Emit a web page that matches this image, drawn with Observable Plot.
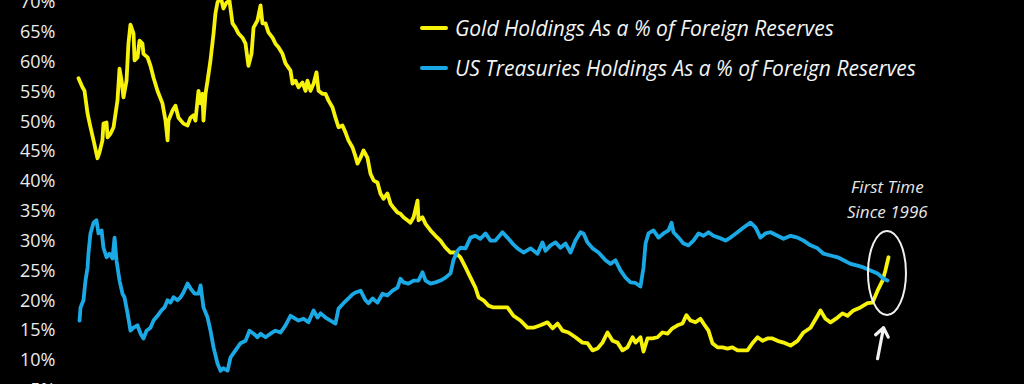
<!DOCTYPE html>
<html><head><meta charset="utf-8">
<script src="https://cdn.jsdelivr.net/npm/d3@7"></script>
<script src="https://cdn.jsdelivr.net/npm/@observablehq/plot@0.6"></script>
<style>
html,body{margin:0;padding:0;background:#000;overflow:hidden;}
#wrap{position:relative;width:1024px;height:384px;overflow:hidden;background:#000;}
.legend{position:absolute;left:420px;top:8px;font-family:"Open Sans";font-style:italic;font-size:21px;color:#f4f4f4;}
.legend div{height:40px;display:flex;align-items:center;white-space:nowrap;}
.sw{display:inline-block;width:28px;height:4px;border-radius:2px;margin-right:7px;}
</style></head><body><div id="wrap"></div>
<script>
// Gold holdings as % of foreign reserves
const goldYears = [1970.00,1970.27,1970.41,1970.62,1970.82,1971.03,1971.30,1971.44,1971.64,1971.71,1971.92,1971.99,1972.19,1972.40,1972.67,1972.81,1972.95,1973.08,1973.29,1973.42,1973.56,1973.77,1973.84,1974.04,1974.18,1974.38,1974.45,1974.73,1974.93,1975.14,1975.41,1975.75,1975.96,1976.10,1976.16,1976.44,1976.64,1976.85,1977.19,1977.47,1977.67,1977.88,1978.01,1978.22,1978.36,1978.49,1978.56,1978.70,1978.84,1979.04,1979.25,1979.38,1979.52,1979.73,1979.93,1980.14,1980.34,1980.55,1980.75,1980.96,1981.23,1981.44,1981.64,1981.85,1981.99,1982.26,1982.47,1982.60,1982.81,1983.01,1983.29,1983.49,1983.70,1983.97,1984.18,1984.52,1984.66,1984.86,1985.07,1985.34,1985.55,1985.68,1985.89,1986.10,1986.30,1986.44,1986.71,1986.92,1987.12,1987.40,1987.60,1987.81,1988.08,1988.29,1988.49,1988.77,1988.97,1989.11,1989.32,1989.52,1989.79,1990.00,1990.21,1990.48,1990.68,1990.89,1991.16,1991.37,1991.58,1991.85,1992.05,1992.26,1992.53,1992.74,1992.95,1993.22,1993.29,1993.56,1993.77,1994.11,1994.45,1994.79,1995.14,1995.48,1995.82,1996.16,1996.51,1996.85,1997.19,1997.40,1997.74,1998.08,1998.42,1998.90,1999.38,1999.79,2000.27,2000.75,2001.16,2001.64,2002.12,2002.47,2002.81,2003.15,2003.56,2004.04,2004.52,2004.86,2005.21,2005.55,2005.89,2006.23,2006.58,2006.92,2007.26,2007.60,2007.95,2008.15,2008.49,2008.70,2008.97,2009.32,2009.66,2010.00,2010.34,2010.68,2011.03,2011.37,2011.64,2011.92,2012.26,2012.60,2012.81,2013.15,2013.42,2013.77,2014.11,2014.45,2014.79,2015.14,2015.48,2015.82,2016.16,2016.51,2016.85,2017.19,2017.53,2017.88,2018.29,2018.77,2019.25,2019.66,2020.14,2020.62,2020.82,2021.16,2021.51,2021.99,2022.33,2022.67,2023.08,2023.56,2024.04,2024.38,2024.73,2025.07,2025.27,2025.48];
const goldValues = [57.3,55.8,55.2,51.4,49.1,46.9,43.9,44.9,46.9,49.7,49.9,47.4,48.0,49.1,53.6,58.9,56.9,54.1,56.9,63.1,66.3,64.8,60.3,60.8,63.6,63.1,61.4,60.8,59.4,57.4,55.2,53.1,50.2,46.9,50.2,51.9,52.7,50.7,49.7,49.4,50.7,51.1,50.2,55.2,53.1,54.7,50.2,54.7,56.9,60.3,64.8,68.2,70.0,71.0,69.0,70.0,70.3,66.5,65.8,64.8,64.1,63.1,59.4,61.4,65.8,67.0,69.5,66.5,66.5,65.0,64.1,63.1,62.5,61.4,59.8,58.6,56.4,56.9,55.8,56.6,55.2,56.9,55.2,56.4,58.3,55.2,54.7,54.7,53.6,52.4,50.7,49.1,49.4,48.2,46.9,45.7,44.2,43.0,44.0,45.2,44.0,41.3,40.2,39.8,38.0,37.1,38.0,36.3,35.6,34.8,34.6,34.0,33.5,33.1,34.0,36.8,33.5,34.0,32.9,31.8,30.9,30.1,28.9,28.1,28.1,27.3,25.6,23.9,22.2,20.6,20.1,19.2,18.9,18.9,18.9,17.5,16.7,15.5,15.5,15.9,16.4,15.4,16.2,15.0,14.7,13.9,13.0,12.9,11.7,12.0,13.0,14.7,13.3,13.0,11.7,12.2,13.9,13.0,13.9,11.5,13.7,13.7,13.9,14.7,14.5,15.4,15.9,16.2,17.6,16.7,16.4,17.0,16.2,15.0,12.9,12.2,12.2,12.0,12.2,11.7,11.7,11.7,12.9,13.9,13.3,13.7,13.7,13.3,13.0,12.5,13.3,14.7,15.5,17.5,18.4,17.0,16.4,17.2,17.9,17.5,18.4,18.9,19.6,19.7,21.7,23.4,25.1,27.3];

// US Treasuries holdings as % of foreign reserves
const ustYears = [1970.07,1970.14,1970.34,1970.48,1970.62,1970.68,1970.82,1971.03,1971.23,1971.37,1971.58,1971.71,1971.92,1972.12,1972.33,1972.47,1972.60,1972.81,1973.01,1973.15,1973.36,1973.56,1973.77,1974.04,1974.25,1974.45,1974.66,1974.93,1975.14,1975.41,1975.68,1975.89,1976.10,1976.30,1976.51,1976.78,1976.99,1977.19,1977.47,1977.67,1977.95,1978.22,1978.36,1978.56,1978.84,1979.04,1979.25,1979.52,1979.73,1979.93,1980.21,1980.41,1980.75,1981.10,1981.44,1981.71,1981.99,1982.26,1982.47,1982.81,1983.15,1983.49,1983.84,1984.18,1984.52,1984.73,1985.07,1985.41,1985.75,1986.10,1986.37,1986.58,1986.92,1987.26,1987.60,1987.81,1988.15,1988.49,1988.77,1988.97,1989.32,1989.66,1989.86,1990.14,1990.48,1990.82,1991.16,1991.51,1991.85,1992.05,1992.26,1992.60,1992.95,1993.29,1993.56,1993.77,1994.11,1994.45,1994.79,1995.14,1995.48,1995.68,1995.96,1996.16,1996.51,1996.85,1997.19,1997.53,1997.88,1998.22,1998.56,1999.04,1999.38,1999.73,2000.07,2000.48,2000.96,2001.44,2001.78,2001.99,2002.33,2002.67,2003.01,2003.36,2003.70,2004.04,2004.38,2004.59,2004.86,2005.21,2005.62,2006.10,2006.44,2006.78,2007.12,2007.47,2007.81,2008.15,2008.49,2008.70,2008.84,2009.04,2009.38,2009.73,2010.07,2010.41,2010.62,2010.75,2011.10,2011.44,2011.78,2012.12,2012.47,2012.81,2013.15,2013.49,2013.84,2014.32,2014.66,2015.14,2015.55,2016.03,2016.37,2016.71,2017.05,2017.40,2017.88,2018.29,2018.77,2019.25,2019.66,2020.14,2020.62,2021.03,2021.51,2022.00,2022.40,2022.88,2023.36,2023.77,2024.25,2024.73,2025.14,2025.41];
const ustValues = [16.7,18.9,20.1,23.4,25.6,27.9,31.3,33.1,33.5,31.3,31.8,28.9,27.3,27.9,27.1,30.6,26.8,23.4,21.2,20.6,17.9,15.0,15.5,15.9,14.5,13.7,15.0,15.5,16.7,17.5,18.4,18.9,20.1,19.7,20.6,20.1,20.6,21.4,22.9,22.1,21.2,21.2,22.6,18.9,17.2,15.0,12.2,9.5,8.3,8.7,8.3,10.5,11.7,12.9,13.3,15.0,14.5,13.9,14.5,13.9,14.5,15.0,14.7,15.9,17.5,17.2,16.7,17.0,16.4,18.4,17.2,17.9,17.2,16.7,16.2,18.7,19.6,20.4,21.1,21.4,21.7,20.1,19.6,20.4,19.7,21.2,20.9,21.7,22.2,23.7,23.1,22.9,23.4,23.4,24.8,23.4,22.9,23.1,23.4,23.9,24.6,26.8,28.4,28.9,28.8,30.6,30.9,30.4,31.3,30.1,30.1,31.5,30.6,29.6,28.8,28.1,28.8,27.9,29.8,28.4,29.3,29.8,28.9,29.6,28.1,30.1,31.5,31.3,29.8,28.8,28.1,26.8,26.2,26.8,25.1,23.9,23.1,23.0,22.4,25.6,29.6,31.3,31.8,30.6,31.3,31.8,33.1,31.5,30.6,29.6,29.3,30.1,31.3,30.9,31.5,30.9,30.6,30.1,30.6,31.5,32.3,33.1,32.3,30.6,31.3,31.5,30.9,30.4,30.9,30.6,30.1,29.3,28.8,27.9,27.6,27.3,26.8,26.2,25.9,25.6,25.1,24.6,23.7,23.4];

const yTicks = [5,10,15,20,25,30,35,40,45,50,55,60,65,70];
const seriesNames = ["Gold Holdings As a % of Foreign Reserves", "US Treasuries Holdings As a % of Foreign Reserves"];
const seriesColors = ["#f7f20a", "#1ba9e6"];
const noteText = "First Time\nSince 1996";
const noteAt = {year: 2025.4, value: 37.3};
const ringAt = {year: 2025.41, value: 24.6};
const arrowFrom = {year: 2024.73, value: 10.3};
const arrowTo = {year: 2025.14, value: 15.5};

const gold = goldYears.map((y, i) => ({year: y, value: goldValues[i]}));
const ust = ustYears.map((y, i) => ({year: y, value: ustValues[i]}));

const plot = Plot.plot({
  width: 1024,
  height: 400,
  marginLeft: 78,
  marginRight: 136,
  marginTop: 0,
  marginBottom: 0,
  style: {background: "#000", color: "#ececec", fontFamily: "Open Sans", fontSize: "18px", overflow: "visible"},
  x: {domain: [1970, 2025.48], axis: null},
  y: {domain: [3.30, 70.335]},
  marks: [
    Plot.axisY({ticks: yTicks, tickSize: 0, tickPadding: 23, tickFormat: d => d + "%", fontSize: 18, fill: "#ececec"}),
    Plot.line(gold, {x: "year", y: "value", stroke: seriesColors[0], strokeWidth: 3.8, strokeLinejoin: "round"}),
    Plot.line(ust, {x: "year", y: "value", stroke: seriesColors[1], strokeWidth: 3.8, strokeLinejoin: "round"}),
    Plot.text([noteAt], {x: "year", y: "value", text: () => noteText, fill: "#e6e6e6", fontSize: 17, fontStyle: "italic", lineHeight: 1.45}),
    Plot.arrow([{x1: arrowFrom.year, y1: arrowFrom.value, x2: arrowTo.year, y2: arrowTo.value}], {x1: "x1", y1: "y1", x2: "x2", y2: "y2", stroke: "#f2f2f2", strokeWidth: 3.2, headLength: 12, headAngle: 75})
  ]
});

const xs = plot.scale("x"), ys = plot.scale("y");
d3.select(plot).append("ellipse")
  .attr("cx", xs.apply(ringAt.year)).attr("cy", ys.apply(ringAt.value))
  .attr("rx", 19).attr("ry", 42)
  .attr("fill", "none").attr("stroke", "#f0f0f0").attr("stroke-width", 2);

const wrap = document.getElementById("wrap");
wrap.appendChild(plot);

const legend = document.createElement("div");
legend.className = "legend";
seriesNames.forEach((n, i) => {
  const row = document.createElement("div");
  const sw = document.createElement("span");
  sw.className = "sw";
  sw.style.background = seriesColors[i];
  row.appendChild(sw);
  row.appendChild(document.createTextNode(n));
  legend.appendChild(row);
});
wrap.appendChild(legend);
</script>
</body></html>
